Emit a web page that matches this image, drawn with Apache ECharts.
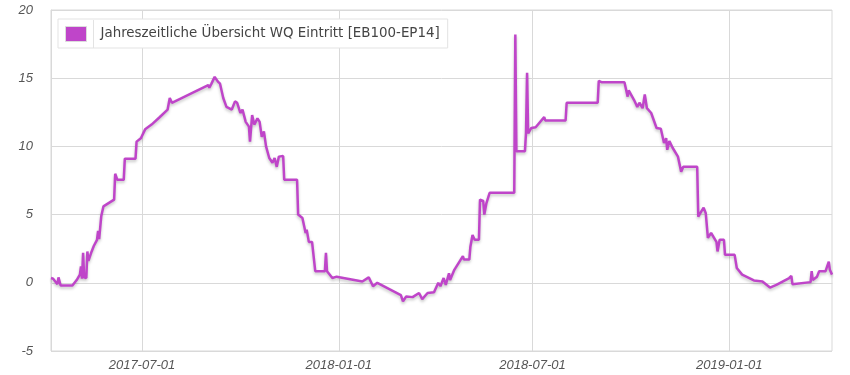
<!DOCTYPE html>
<html><head><meta charset="utf-8">
<script src="https://cdn.jsdelivr.net/npm/echarts@6/dist/echarts.min.js"></script>
<style>html,body{margin:0;padding:0;background:#fff}#c{width:850px;height:375px}</style>
</head><body><div id="c"></div>
<script>
const seriesName = 'Jahreszeitliche Übersicht WQ Eintritt [EB100-EP14]';
const xTickLabels = ['2017-07-01', '2018-01-01', '2018-07-01', '2019-01-01'];
const yTicks = [-5, 0, 5, 10, 15, 20];
const xRange = ['2017-04-07', '2019-04-07'];
const dates = [
 '2017-04-07','2017-04-09','2017-04-13','2017-04-14','2017-04-16','2017-04-27','2017-05-01','2017-05-04','2017-05-05','2017-05-06',
 '2017-05-07','2017-05-08','2017-05-10','2017-05-11','2017-05-12','2017-05-15','2017-05-17','2017-05-20','2017-05-21','2017-05-22',
 '2017-05-24','2017-05-26','2017-06-05','2017-06-06','2017-06-08','2017-06-14','2017-06-15','2017-06-25','2017-06-26','2017-06-30',
 '2017-07-04','2017-07-10','2017-07-17','2017-07-25','2017-07-27','2017-07-29','2017-09-01','2017-09-02','2017-09-04','2017-09-07',
 '2017-09-10','2017-09-12','2017-09-14','2017-09-15','2017-09-18','2017-09-23','2017-09-26','2017-09-28','2017-10-01','2017-10-03',
 '2017-10-06','2017-10-09','2017-10-10','2017-10-12','2017-10-14','2017-10-17','2017-10-19','2017-10-21','2017-10-23','2017-10-25',
 '2017-10-28','2017-10-31','2017-11-02','2017-11-04','2017-11-06','2017-11-10','2017-11-11','2017-11-23','2017-11-24','2017-11-28',
 '2017-12-01','2017-12-02','2017-12-04','2017-12-07','2017-12-10','2017-12-19','2017-12-20','2017-12-21','2017-12-26','2017-12-30',
 '2018-01-23','2018-01-29','2018-02-02','2018-02-06','2018-02-28','2018-03-02','2018-03-05','2018-03-11','2018-03-17','2018-03-20',
 '2018-03-25','2018-03-31','2018-04-04','2018-04-06','2018-04-09','2018-04-11','2018-04-14','2018-04-15','2018-04-19','2018-04-27',
 '2018-04-28','2018-05-03','2018-05-04','2018-05-06','2018-05-08','2018-05-12','2018-05-13','2018-05-16','2018-05-17','2018-05-19',
 '2018-05-22','2018-06-14','2018-06-15','2018-06-16','2018-06-24','2018-06-25','2018-06-26','2018-06-27','2018-06-30','2018-07-04',
 '2018-07-12','2018-07-13','2018-08-01','2018-08-02','2018-08-31','2018-09-01','2018-09-04','2018-09-25','2018-09-28','2018-09-29',
 '2018-10-04','2018-10-07','2018-10-09','2018-10-12','2018-10-14','2018-10-16','2018-10-20','2018-10-21','2018-10-25','2018-10-29',
 '2018-11-01','2018-11-03','2018-11-04','2018-11-06','2018-11-09','2018-11-14','2018-11-17','2018-11-19','2018-12-02','2018-12-03',
 '2018-12-06','2018-12-08','2018-12-10','2018-12-12','2018-12-15','2018-12-20','2018-12-21','2018-12-23','2018-12-27','2018-12-28',
 '2019-01-06','2019-01-08','2019-01-13','2019-01-24','2019-02-01','2019-02-08','2019-02-14','2019-02-26','2019-02-28','2019-03-01',
 '2019-03-18','2019-03-19','2019-03-20','2019-03-24','2019-03-26','2019-04-01','2019-04-04','2019-04-05','2019-04-07'
];
const values = [
 0.35,0.3,-0.1,0.4,-0.2,-0.2,0.2,0.6,1.2,0.3,
 2.2,0.4,0.35,2.3,1.6,2.3,2.7,3.15,3.8,3.2,
 4.9,5.6,6.1,8.0,7.55,7.55,9.1,9.1,10.35,10.6,
 11.25,11.6,12.1,12.7,13.55,13.2,14.5,14.3,14.6,15.1,
 14.75,14.6,13.9,13.55,12.9,12.7,13.3,13.2,12.45,12.7,
 11.8,11.45,10.35,12.3,11.6,12.05,11.8,10.7,11.1,10.0,
 9.15,8.8,9.15,8.5,9.25,9.3,7.55,7.55,5.0,4.75,
 3.65,3.9,3.0,3.0,0.85,0.85,2.2,0.85,0.35,0.45,
 0.1,0.4,-0.25,0.0,-0.9,-1.35,-1.0,-1.05,-0.75,-1.2,
 -0.75,-0.7,0.0,-0.25,0.35,-0.15,0.7,0.2,0.95,1.95,
 1.7,1.7,2.65,3.5,3.15,3.15,6.1,6.0,5.0,5.85,
 6.6,6.6,18.2,9.65,9.65,11.0,15.4,10.95,11.35,11.4,
 12.15,11.9,11.9,13.2,13.2,14.8,14.7,14.7,13.65,14.1,
 13.4,12.9,13.2,12.8,13.8,12.8,12.45,12.55,11.35,11.3,
 10.25,10.6,9.75,10.4,9.9,9.25,8.15,8.5,8.5,4.85,
 5.25,5.5,5.1,3.3,3.65,3.0,2.3,3.15,3.15,2.05,
 2.05,1.08,0.6,0.17,0.1,-0.35,-0.15,0.35,0.5,-0.1,
 0.05,0.85,0.2,0.45,0.85,0.85,1.55,0.95,0.6
];

const lineColor = '#bf45c9';
const ts = s => echarts.time.parse(s).getTime();
const tickTs = xTickLabels.map(ts);
const chart = echarts.init(document.getElementById('c'), null, {renderer: 'canvas'});
chart.setOption({
  animation: false,
  backgroundColor: '#fff',
  grid: {left: 51, right: 18, top: 10, bottom: 24, show: true, borderColor: '#d9d9d9', borderWidth: 1, containLabel: false},
  legend: {
    left: 58, top: 19, padding: [7, 8, 6, 7], itemWidth: 21, itemHeight: 15, itemGap: 10,
    borderColor: '#e3e3e3', borderWidth: 1, backgroundColor: '#fff',
    icon: 'rect',
    textStyle: {fontFamily: 'DejaVu Sans', fontSize: 13.4, color: '#444', padding: [0, 0, 0, 9]},
    data: [{name: seriesName, itemStyle: {color: lineColor, borderColor: '#dcdcdc', borderWidth: 1}}]
  },
  graphic: [{
    type: 'line', silent: true, z: 100,
    shape: {x1: 93.5, y1: 20, x2: 93.5, y2: 48},
    style: {stroke: '#e3e3e3', lineWidth: 1}
  }],
  xAxis: {
    type: 'value', min: ts(xRange[0]), max: ts(xRange[1]),
    axisLine: {show: true, lineStyle: {color: '#d9d9d9'}},
    axisTick: {show: false, customValues: tickTs},
    splitLine: {show: true, lineStyle: {color: '#d9d9d9', width: 1}},
    axisLabel: {
      customValues: tickTs, margin: 8, showMinLabel: true, showMaxLabel: true,
      fontFamily: 'Liberation Sans', fontStyle: 'italic', fontSize: 13, color: '#555',
      formatter: v => echarts.time.format(v, '{yyyy}-{MM}-{dd}', false)
    }
  },
  yAxis: {
    type: 'value', min: yTicks[0], max: yTicks[yTicks.length - 1], interval: 5,
    axisLine: {show: true, lineStyle: {color: '#d9d9d9'}},
    axisTick: {show: false},
    splitLine: {show: true, lineStyle: {color: '#d9d9d9', width: 1}},
    axisLabel: {margin: 18, fontFamily: 'Liberation Sans', fontStyle: 'italic', fontSize: 13, color: '#555'}
  },
  series: [{
    name: seriesName, type: 'line', showSymbol: false, symbol: 'none',
    data: dates.map((d, i) => [ts(d), values[i]]),
    lineStyle: {color: lineColor, width: 2.5, shadowColor: 'rgba(0,0,0,0.22)', shadowBlur: 3, shadowOffsetY: 2},
    itemStyle: {color: lineColor}
  }]
});
</script></body></html>
